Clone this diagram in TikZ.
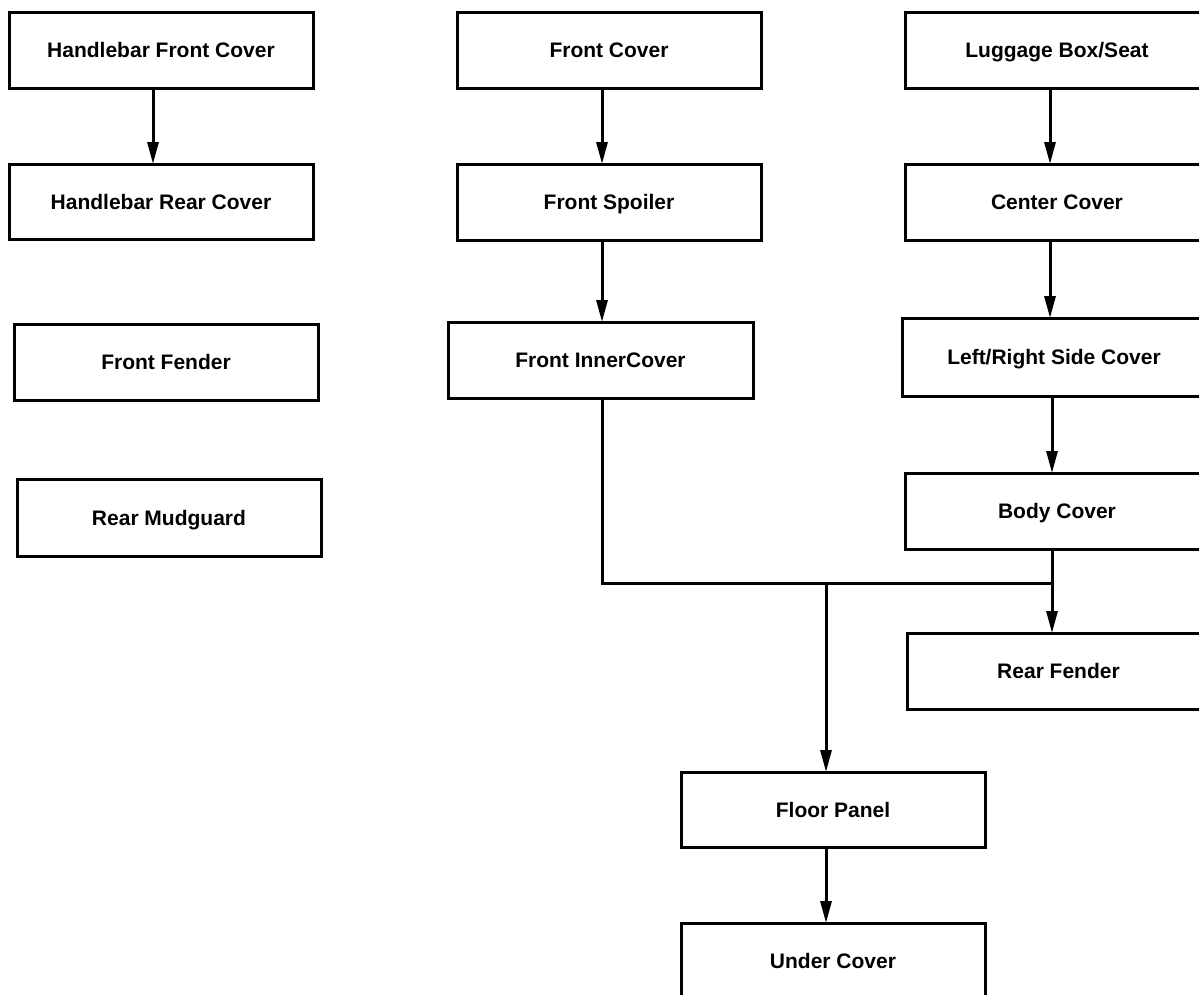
\documentclass[tikz,border=0pt]{standalone}
\usepackage{fontspec}
\setmainfont{Liberation Sans}
\usetikzlibrary{arrows.meta}
\begin{document}
\begin{tikzpicture}[x=1pt,y=1pt,
  box/.style={draw, line width=3pt, outer sep=0pt, inner sep=0pt, anchor=north west,
    text height=15pt, text depth=0pt,
    font=\bfseries\fontsize{21}{24}\selectfont},
  conn/.style={line width=3pt},
  arr/.style={line width=3pt, -{Triangle[length=22pt,width=11pt]}}]
\useasboundingbox (0,0) rectangle (1199,-994);
\clip (0,0) rectangle (1199,-994);
\newcommand{\pbox}[6]{\node[box, minimum width={#4-#2}, minimum height={#5-#3}] (#1) at (#2,-#3) {#6};}
\pbox{hfc}{9}{12}{313}{88}{Handlebar Front Cover}
\pbox{hrc}{9}{164}{313}{239}{Handlebar Rear Cover}
\pbox{ff}{14}{324}{318}{400}{Front Fender}
\pbox{rm}{17}{479}{321}{556}{Rear Mudguard}
\pbox{fc}{457}{12}{761}{88}{Front Cover}
\pbox{fs}{457}{164}{761}{240}{Front Spoiler}
\pbox{fic}{448}{322}{753}{398}{Front InnerCover}
\pbox{lug}{905}{12}{1209}{88}{Luggage Box/Seat}
\pbox{cc}{905}{164}{1209}{240}{Center Cover}
\pbox{lr}{902}{318}{1206}{396}{Left/Right Side Cover}
\pbox{body}{905}{473}{1209}{549}{Body Cover}
\pbox{rf}{907}{633}{1210}{709}{Rear Fender}
\pbox{fp}{681}{772}{985}{847}{Floor Panel}
\pbox{uc}{681}{923}{985}{999}{Under Cover}
\coordinate (busR) at (1052,-583);
\coordinate (busM) at (826,-583);
\draw[arr] ([xshift=-8pt]hfc.south) -- ([xshift=-8pt]hrc.north);
\draw[arr] ([xshift=-7pt]fc.south) -- ([xshift=-7pt]fs.north);
\draw[arr] ([xshift=-7pt]fs.south) -- ([xshift=-7pt]fs.south |- fic.north);
\draw[arr] ([xshift=-7pt]lug.south) -- ([xshift=-7pt]cc.north);
\draw[arr] ([xshift=-7pt]cc.south) -- ([xshift=-7pt]cc.south |- lr.north);
\draw[arr] (busR |- lr.south) -- (busR |- body.north);
\draw[conn] ([xshift=1.5pt]fic.south) |- (busR);
\draw[arr] (busR |- body.south) -- (busR |- rf.north);
\draw[arr] (busM) -- (busM |- fp.north);
\draw[arr] (busM |- fp.south) -- (busM |- uc.north);
\end{tikzpicture}
\end{document}
